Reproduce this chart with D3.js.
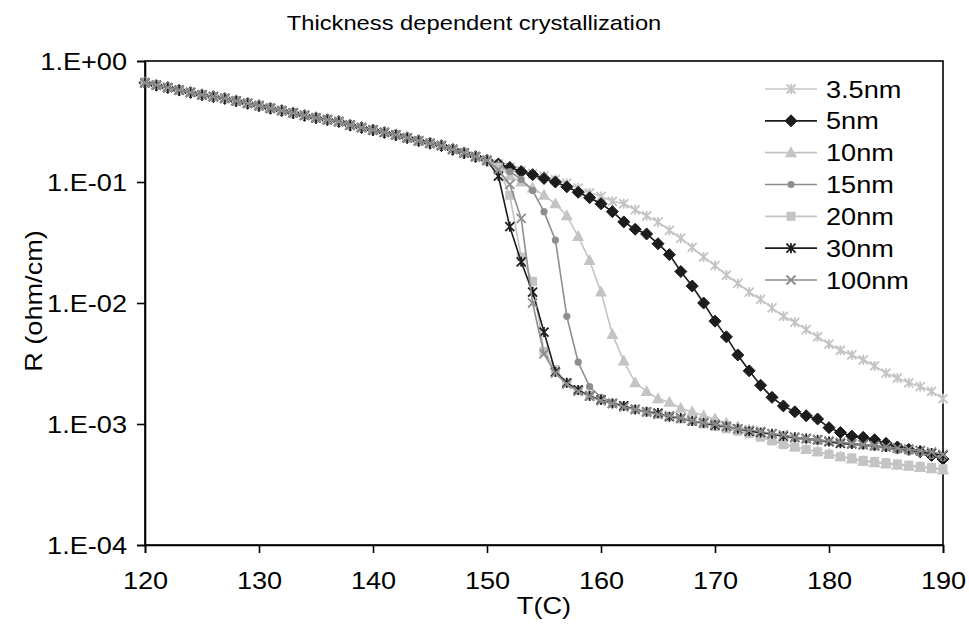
<!DOCTYPE html>
<html><head><meta charset="utf-8">
<script src="https://cdn.jsdelivr.net/npm/d3@7"></script>
<style>body{margin:0;background:#fff}svg{display:block}text{font-family:"Liberation Sans",Arial,sans-serif;fill:#000}</style>
</head><body>
<svg id="c" width="969" height="636"></svg>
<script>
const title = "Thickness dependent crystallization";
const xLabel = "T(C)";
const yLabel = "R (ohm/cm)";
const xTicks = [120,130,140,150,160,170,180,190];
const yTicks = [1,0.1,0.01,0.001,0.0001];
const yTickLabels = ["1.E+00","1.E-01","1.E-02","1.E-03","1.E-04"];
const seriesNames = ["3.5nm","5nm","10nm","15nm","20nm","30nm","100nm"];

const temps = [120,121,122,123,124,125,126,127,128,129,130,131,132,133,134,135,136,137,138,139,140,
141,142,143,144,145,146,147,148,149,150,151,152,153,154,155,156,157,158,159,160,161,162,163,164,165,
166,167,168,169,170,171,172,173,174,175,176,177,178,179,180,181,182,183,184,185,186,187,188,189,190];

// common resistance before crystallization (120..150 C)
const base = [0.661,0.631,0.603,0.575,0.550,0.525,0.507,0.490,0.468,0.447,0.427,0.407,0.389,0.372,0.355,0.339,
0.327,0.316,0.295,0.282,0.269,0.257,0.245,0.232,0.219,0.209,0.200,0.186,0.174,0.162,0.151];

// 151..190 C
const r3_5nm = [0.141,0.132,0.124,0.117,0.112,0.105,0.0977,0.0891,0.0813,0.0759,0.0692,0.0661,0.0589,0.0525,0.0468,
0.0398,0.0343,0.0288,0.0240,0.0204,0.0170,0.0145,0.0123,0.0107,0.00912,0.00776,0.00692,0.00603,0.00525,0.00457,
0.00407,0.00372,0.00339,0.00302,0.00263,0.00240,0.00219,0.00204,0.00186,0.00162];
const r5nm = [0.141,0.132,0.122,0.115,0.107,0.100,0.0912,0.0822,0.0741,0.0661,0.0569,0.0468,0.0407,0.0372,0.0309,
0.0251,0.0182,0.0138,0.0100,0.00708,0.00525,0.00372,0.00275,0.00209,0.00166,0.00141,0.00126,0.00117,0.00110,0.000933,
0.000851,0.000794,0.000776,0.000741,0.000692,0.000646,0.000617,0.000589,0.000550,0.000513];
const r10nm = [0.135,0.112,0.100,0.0891,0.0776,0.0661,0.0525,0.0355,0.0224,0.0123,0.00550,0.00331,0.00219,0.00186,0.00162,
0.00151,0.00135,0.00126,0.00117,0.00110,0.00102,0.000955,0.000891,0.000813,0.000741,0.000692,0.000646,0.000617,0.000589,0.000562,
0.000537,0.000513,0.000490,0.000479,0.000468,0.000457,0.000447,0.000437,0.000427,0.000417];
const r15nm = [0.138,0.122,0.105,0.0851,0.0569,0.0331,0.00776,0.00324,0.00204,0.00166,0.00151,0.00141,0.00132,0.00126,0.00120,
0.00115,0.00110,0.00105,0.00100,0.000977,0.000933,0.000891,0.000871,0.000851,0.000813,0.000794,0.000759,0.000741,0.000724,0.000708,
0.000692,0.000676,0.000661,0.000646,0.000631,0.000603,0.000589,0.000575,0.000550,0.000525];
const r20nm = [0.132,0.0776,0.0240,0.0151,0.00398,0.00282,0.00219,0.00191,0.00174,0.00158,0.00148,0.00141,0.00132,0.00126,0.00120,
0.00115,0.00110,0.00105,0.00100,0.000955,0.000912,0.000871,0.000832,0.000776,0.000724,0.000676,0.000646,0.000617,0.000589,0.000562,
0.000537,0.000525,0.000501,0.000490,0.000479,0.000468,0.000457,0.000447,0.000437,0.000427];
const r30nm = [0.112,0.0427,0.0219,0.0123,0.00575,0.00269,0.00219,0.00191,0.00170,0.00158,0.00148,0.00141,0.00132,0.00126,0.00123,
0.00115,0.00112,0.00106,0.00102,0.000977,0.000955,0.000912,0.000871,0.000851,0.000832,0.000794,0.000776,0.000759,0.000741,0.000716,
0.000692,0.000684,0.000676,0.000661,0.000646,0.000631,0.000617,0.000603,0.000575,0.000550];
const r100nm = [0.126,0.0955,0.0501,0.0100,0.00380,0.00263,0.00214,0.00186,0.00170,0.00155,0.00148,0.00138,0.00132,0.00126,0.00120,
0.00117,0.00112,0.00107,0.00102,0.00100,0.000955,0.000912,0.000891,0.000871,0.000832,0.000813,0.000776,0.000759,0.000741,0.000724,
0.000708,0.000692,0.000676,0.000661,0.000646,0.000631,0.000617,0.000603,0.000589,0.000562];

const tails = [r3_5nm,r5nm,r10nm,r15nm,r20nm,r30nm,r100nm];
const styles = [
  {color:"#c4c4c4", marker:"asterisk"},
  {color:"#1c1c1c", marker:"diamond"},
  {color:"#c4c4c4", marker:"triangle"},
  {color:"#8e8e8e", marker:"circle"},
  {color:"#c4c4c4", marker:"square"},
  {color:"#1c1c1c", marker:"asterisk"},
  {color:"#8e8e8e", marker:"cross"}
];

const svg = d3.select("#c");
const L=145, R=943, T=61, B=545;
const x = d3.scaleLinear().domain([120,190]).range([L,R]);
const y = d3.scaleLog().domain([1e-4,1]).range([B,T]);
const STRETCH = 1.13;
function stretch(sel){ sel.each(function(){ const w=this.getComputedTextLength(); this.setAttribute("textLength", w*STRETCH); this.setAttribute("lengthAdjust","spacingAndGlyphs"); }); }

// frame
svg.append("rect").attr("x",L).attr("y",T).attr("width",R-L).attr("height",B-T)
  .attr("fill","none").attr("stroke","#000").attr("stroke-width",1.6);

// axes
const xa = svg.append("g").attr("transform",`translate(0,${B})`)
  .call(d3.axisBottom(x).tickValues(xTicks).tickSize(8).tickPadding(19).tickFormat(d3.format("d")));
const ya = svg.append("g").attr("transform",`translate(${L},0)`)
  .call(d3.axisLeft(y).tickValues(yTicks).tickSize(8).tickPadding(10).tickFormat((d,i)=>yTickLabels[i]));
[xa,ya].forEach(a=>{
  a.select(".domain").attr("stroke","#000").attr("stroke-width",1.6);
  a.selectAll(".tick line").attr("stroke","#000").attr("stroke-width",1.6);
  a.selectAll("text").attr("font-size",24).attr("font-family","Liberation Sans, Arial, sans-serif").attr("fill","#000");
});
ya.selectAll("text").attr("dy","0.36em");
stretch(xa.selectAll("text")); stretch(ya.selectAll("text"));

// markers
function drawMarker(g, type, color, cx, cy){
  if(type==="diamond"){
    g.append("path").attr("d",`M${cx},${cy-6}L${cx+6},${cy}L${cx},${cy+6}L${cx-6},${cy}Z`).attr("fill",color).attr("stroke",color).attr("stroke-width",1);
  } else if(type==="triangle"){
    g.append("path").attr("d",`M${cx},${cy-6.5}L${cx+6},${cy+4.5}L${cx-6},${cy+4.5}Z`).attr("fill",color);
  } else if(type==="square"){
    g.append("rect").attr("x",cx-4.5).attr("y",cy-4.5).attr("width",9).attr("height",9).attr("fill",color);
  } else if(type==="circle"){
    g.append("circle").attr("cx",cx).attr("cy",cy).attr("r",3.6).attr("fill",color);
  } else if(type==="asterisk"){
    g.append("path").attr("d",`M${cx-4.5},${cy-4.5}L${cx+4.5},${cy+4.5}M${cx-4.5},${cy+4.5}L${cx+4.5},${cy-4.5}M${cx},${cy-5}L${cx},${cy+5}`)
      .attr("stroke",color).attr("stroke-width",1.8).attr("fill","none");
  } else if(type==="cross"){
    g.append("path").attr("d",`M${cx-4.5},${cy-4.5}L${cx+4.5},${cy+4.5}M${cx-4.5},${cy+4.5}L${cx+4.5},${cy-4.5}`)
      .attr("stroke",color).attr("stroke-width",1.8).attr("fill","none");
  }
}

const line = d3.line().x(d=>x(d.t)).y(d=>y(d.r));
const plot = svg.append("g");
tails.forEach((tail,i)=>{
  const vals = base.concat(tail);
  const data = temps.map((t,j)=>({t:t, r:vals[j]}));
  const g = plot.append("g");
  g.append("path").datum(data).attr("d",line).attr("fill","none").attr("stroke",styles[i].color).attr("stroke-width",1.6);
  data.forEach(d=>drawMarker(g, styles[i].marker, styles[i].color, x(d.t), y(d.r)));
});

// legend
const lg = svg.append("g");
const ly = d3.scalePoint().domain(seriesNames).range([89,280]);
seriesNames.forEach((n,i)=>{
  const yy = ly(n);
  lg.append("line").attr("x1",765).attr("x2",817).attr("y1",yy).attr("y2",yy).attr("stroke",styles[i].color).attr("stroke-width",1.6);
  drawMarker(lg, styles[i].marker, styles[i].color, 791, yy);
  lg.append("text").attr("x",826).attr("y",yy).attr("dy","0.36em").attr("font-size",24).text(n);
});
stretch(lg.selectAll("text"));

// titles
svg.append("text").attr("x",474).attr("y",30).attr("text-anchor","middle").attr("font-size",21).text(title).call(stretch);
svg.append("text").attr("x",544).attr("y",614).attr("text-anchor","middle").attr("font-size",24).text(xLabel).call(stretch);
svg.append("text").attr("transform","translate(42,301) rotate(-90)").attr("text-anchor","middle").attr("font-size",24).text(yLabel).call(stretch);
</script>
</body></html>
